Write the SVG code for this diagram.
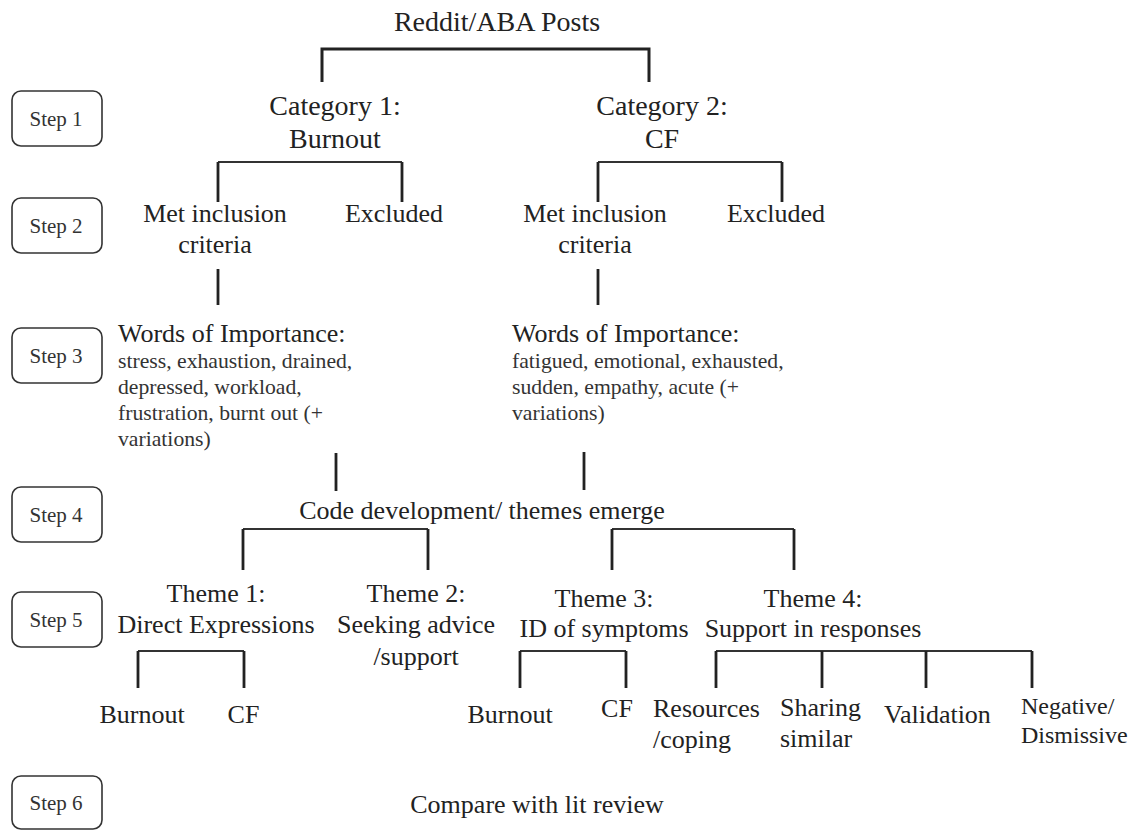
<svg xmlns="http://www.w3.org/2000/svg" width="1138" height="831" viewBox="0 0 1138 831">
<style>
text{font-family:"Liberation Serif","Times New Roman",serif;fill:#222}
.m{font-size:26px}
.c{font-size:28px}
.s{font-size:21.7px;fill:#333}
.n{font-size:24px}
.st{font-size:21px;fill:#333}
.mid{text-anchor:middle}
.box{fill:#fff;stroke:#333;stroke-width:1.6}
.v{fill:none;stroke:#222;stroke-width:2.8}
.h{fill:none;stroke:#333;stroke-width:1.8}
</style>
<rect width="1138" height="831" fill="#fff"/>
<g id="steps">
<g id="step1"><rect class="box" x="12" y="91" width="90" height="55" rx="9"/><text class="st mid" x="56" y="125.5">Step 1</text></g>
<g id="step2"><rect class="box" x="12" y="198" width="90" height="55" rx="9"/><text class="st mid" x="56" y="232.5">Step 2</text></g>
<g id="step3"><rect class="box" x="12" y="328" width="90" height="55" rx="9"/><text class="st mid" x="56" y="362.5">Step 3</text></g>
<g id="step4"><rect class="box" x="12" y="487" width="90" height="55" rx="9"/><text class="st mid" x="56" y="521.5">Step 4</text></g>
<g id="step5"><rect class="box" x="12" y="592" width="90" height="55" rx="9"/><text class="st mid" x="56" y="626.5">Step 5</text></g>
<g id="step6"><rect class="box" x="12" y="776" width="90" height="53" rx="9"/><text class="st mid" x="56" y="809.5">Step 6</text></g>
</g>
<g id="connectors">
<path class="v" style="stroke-width:3" d="M322,82 V49 H649 V82"/>
<path class="h" d="M218,162 H402 M598,162 H782 M243,529 H428 M612,529 H794 M138,651 H244 M520,651 H626 M716,651 H1032"/>
<path class="v" d="M218,162 V202 M402,162 V202 M598,162 V202 M782,162 V202"/>
<path class="v" d="M218,269 V305 M598,269 V305"/>
<path class="v" d="M336,453 V491 M584,452 V490"/>
<path class="v" d="M243,529 V570 M428,529 V570 M612,529 V570 M794,529 V570"/>
<path class="v" d="M138,651 V688 M244,651 V688 M520,651 V688 M626,651 V688"/>
<path class="v" d="M716,651 V688 M822,651 V688 M926,651 V688 M1032,651 V688"/>
</g>
<g id="root"><text class="c mid" x="497" y="31">Reddit/ABA Posts</text></g>
<g id="cat1"><text class="c mid" x="335" y="115">Category 1:</text><text class="c mid" x="335" y="148">Burnout</text></g>
<g id="cat2"><text class="c mid" x="662" y="115">Category 2:</text><text class="c mid" x="662" y="148">CF</text></g>
<g id="met1"><text class="m mid" x="215" y="222">Met inclusion</text><text class="m mid" x="215" y="253">criteria</text></g>
<g id="excl1"><text class="m mid" x="394" y="222">Excluded</text></g>
<g id="met2"><text class="m mid" x="595" y="222">Met inclusion</text><text class="m mid" x="595" y="253">criteria</text></g>
<g id="excl2"><text class="m mid" x="776" y="222">Excluded</text></g>
<g id="words1"><text class="m" x="118" y="342">Words of Importance:</text>
<text class="s" x="118" y="368">stress, exhaustion, drained,</text>
<text class="s" x="118" y="394">depressed, workload,</text>
<text class="s" x="118" y="420">frustration, burnt out (+</text>
<text class="s" x="118" y="446">variations)</text></g>
<g id="words2"><text class="m" x="512" y="342">Words of Importance:</text>
<text class="s" x="512" y="368">fatigued, emotional, exhausted,</text>
<text class="s" x="512" y="394">sudden, empathy, acute (+</text>
<text class="s" x="512" y="420">variations)</text></g>
<g id="code"><text class="m mid" x="482" y="519">Code development/ themes emerge</text></g>
<g id="theme1"><text class="m mid" x="216" y="602">Theme 1:</text><text class="m mid" x="216" y="633">Direct Expressions</text></g>
<g id="theme2"><text class="m mid" x="416" y="602">Theme 2:</text><text class="m mid" x="416" y="633">Seeking advice</text><text class="m mid" x="416" y="665">/support</text></g>
<g id="theme3"><text class="m mid" x="604" y="607">Theme 3:</text><text class="m mid" x="604" y="637">ID of symptoms</text></g>
<g id="theme4"><text class="m mid" x="813" y="607">Theme 4:</text><text class="m mid" x="813" y="637">Support in responses</text></g>
<g id="t1burnout"><text class="m mid" x="142" y="723">Burnout</text></g>
<g id="t1cf"><text class="m mid" x="243.5" y="723">CF</text></g>
<g id="t3burnout"><text class="m mid" x="510" y="723">Burnout</text></g>
<g id="t3cf"><text class="m mid" x="617" y="717">CF</text></g>
<g id="resources"><text class="m" x="653" y="717">Resources</text><text class="m" x="653" y="748">/coping</text></g>
<g id="sharing"><text class="m" x="780" y="716">Sharing</text><text class="m" x="780" y="747">similar</text></g>
<g id="validation"><text class="m" x="884" y="723">Validation</text></g>
<g id="negative"><text class="n" x="1021" y="714">Negative/</text><text class="n" x="1021" y="743">Dismissive</text></g>
<g id="compare"><text class="m mid" x="537" y="813">Compare with lit review</text></g>
</svg>
